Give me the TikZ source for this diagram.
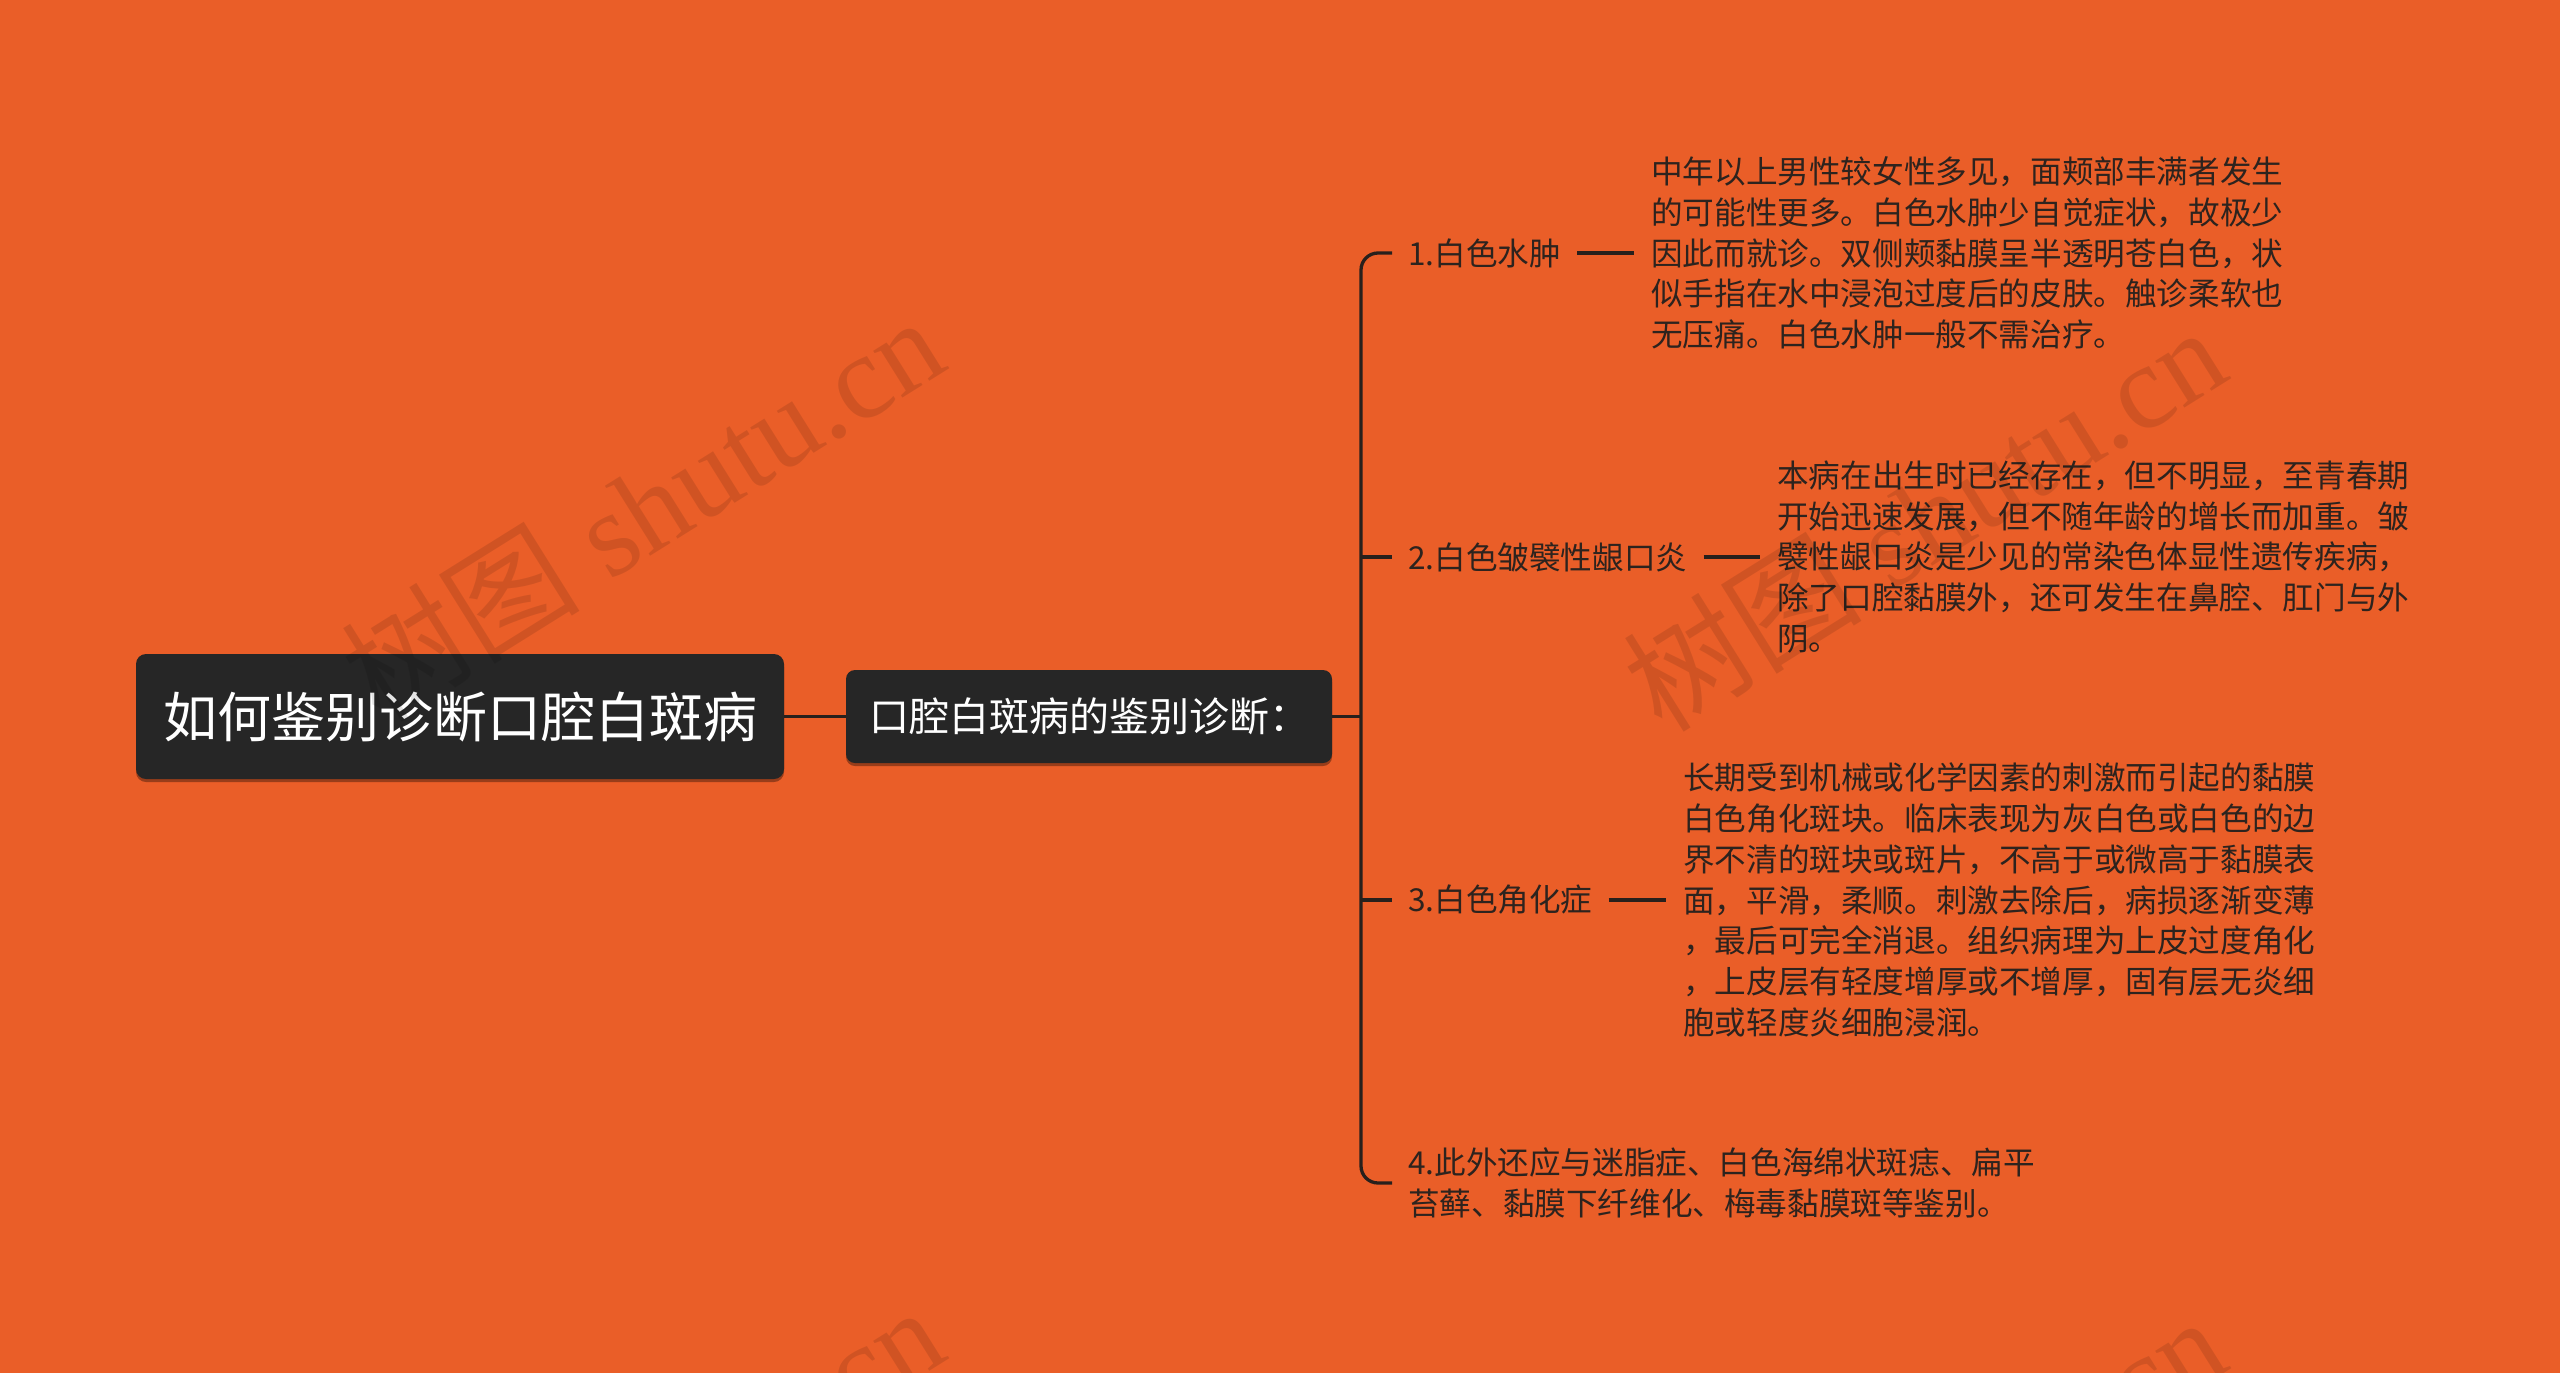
\documentclass[tikz,border=0pt]{standalone}
\usepackage{fontspec}
\newfontfamily\cjk{Noto Sans CJK SC}
\newfontfamily\wmserif{Liberation Serif}
\usetikzlibrary{shadows}
\definecolor{bg}{RGB}{234,94,40}
\definecolor{boxfill}{RGB}{38,38,38}
\definecolor{linec}{RGB}{40,32,28}
\definecolor{leafink}{RGB}{45,35,30}
\tikzset{
  rootbox/.style={fill=boxfill, rounded corners=10pt, minimum width=648pt, minimum height=125pt,
    inner sep=0pt, text=white, font=\cjk\fontsize{54}{60}\selectfont,
    drop shadow={shadow xshift=0pt, shadow yshift=-3pt, opacity=0.35, fill=black}},
  subbox/.style={fill=boxfill, rounded corners=9pt, minimum width=486pt, minimum height=93pt,
    inner sep=0pt, text=white, font=\cjk\fontsize{40}{46}\selectfont,
    drop shadow={shadow xshift=0pt, shadow yshift=-3pt, opacity=0.35, fill=black}},
  leaflabel/.style={anchor=west, inner xsep=16pt, inner ysep=0pt, text=leafink, align=left,
    font=\cjk\fontsize{31.6}{40.8}\selectfont},
  leafbody/.style={anchor=west, inner xsep=17pt, inner ysep=0pt, text=leafink, align=left,
    font=\cjk\fontsize{31.6}{40.8}\selectfont},
  conn/.style={draw=linec, line width=3.3pt},
  wm/.style={anchor=base west, inner sep=0pt, rotate=32, text=black, text opacity=0.11,
    font=\wmserif\fontsize{120}{120}\selectfont}
}
\begin{document}
\begin{tikzpicture}[x=1pt, y=-1pt]
\useasboundingbox (0,0) rectangle (2560,1373);
\fill[bg] (0,0) rectangle (2560,1373);

% main nodes
\node[rootbox] (root) at (460,716.5) {如何鉴别诊断口腔白斑病};
\node[subbox] (sub) at (1089,716.5) {口腔白斑病的鉴别诊断：};
\coordinate (trunk) at (1361,716.5);

% leaves
\node[leaflabel] (lab1) at (1392,253) {1.白色水肿};
\node[leafbody] (txt1) at (1634,253) {中年以上男性较女性多见，面颊部丰满者发生\\的可能性更多。白色水肿少自觉症状，故极少\\因此而就诊。双侧颊黏膜呈半透明苍白色，状\\似手指在水中浸泡过度后的皮肤。触诊柔软也\\无压痛。白色水肿一般不需治疗。};

\node[leaflabel] (lab2) at (1392,557) {2.白色皱襞性龈口炎};
\node[leafbody] (txt2) at (1760,557) {本病在出生时已经存在，但不明显，至青春期\\开始迅速发展，但不随年龄的增长而加重。皱\\襞性龈口炎是少见的常染色体显性遗传疾病，\\除了口腔黏膜外，还可发生在鼻腔、肛门与外\\阴。};

\node[leaflabel] (lab3) at (1392,900) {3.白色角化症};
\node[leafbody] (txt3) at (1666,900) {长期受到机械或化学因素的刺激而引起的黏膜\\白色角化斑块。临床表现为灰白色或白色的边\\界不清的斑块或斑片，不高于或微高于黏膜表\\面，平滑，柔顺。刺激去除后，病损逐渐变薄\\，最后可完全消退。组织病理为上皮过度角化\\，上皮层有轻度增厚或不增厚，固有层无炎细\\胞或轻度炎细胞浸润。};

\node[leaflabel] (lab4) at (1392,1183) {4.此外还应与迷脂症、白色海绵状斑痣、扁平\\苔藓、黏膜下纤维化、梅毒黏膜斑等鉴别。};

% connectors
\draw[conn] (root.east) -- (sub.west);
\draw[conn] (sub.east) -- (trunk);
\draw[conn, rounded corners=17pt] (lab1.west) -| (trunk) |- (lab4.west);
\draw[conn] (lab2.west -| trunk) -- (lab2.west);
\draw[conn] (lab3.west -| trunk) -- (lab3.west);
\draw[conn] (lab1.east) -- (txt1.west);
\draw[conn] (lab2.east) -- (txt2.west);
\draw[conn] (lab3.east) -- (txt3.west);

% watermarks
\begin{scope}
\clip (0,0) rectangle (2560,1373);
\node[wm] (wm1) at (380,725) {{\cjk 树图} shutu.cn};
\node[wm] (wm2) at (1662,735) {{\cjk 树图} shutu.cn};
\node[wm] (wm3) at (380,1715) {{\cjk 树图} shutu.cn};
\node[wm] (wm4) at (1662,1725) {{\cjk 树图} shutu.cn};
\end{scope}
\end{tikzpicture}
\end{document}
